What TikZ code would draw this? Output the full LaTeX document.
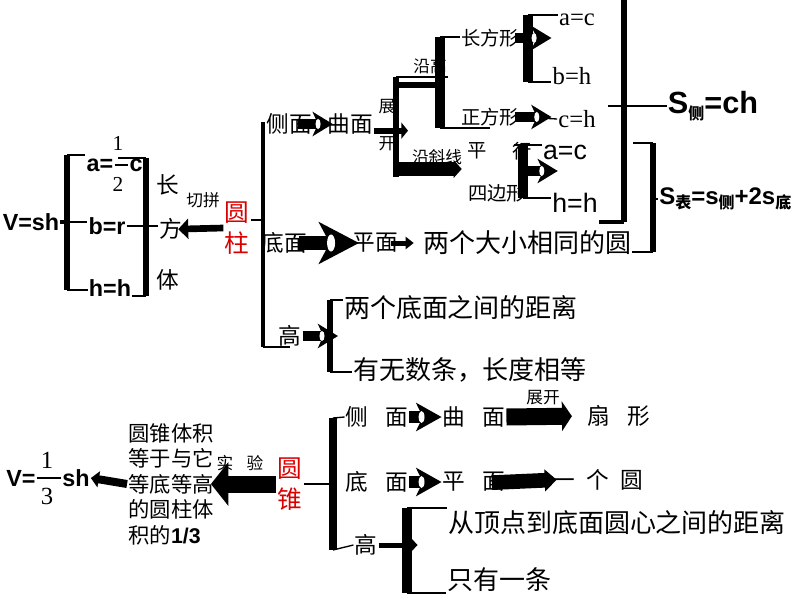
\documentclass[tikz,border=0pt]{standalone}
\usepackage{fontspec}
\setmainfont{Liberation Serif}
\setsansfont{Liberation Sans}
\newfontfamily\cjk{Noto Sans CJK SC}
\usetikzlibrary{arrows.meta}

\newcommand{\cjksub}[1]{\raisebox{-0.35ex}{\cjk\fontsize{12}{12}\selectfont #1}}

\tikzset{
  cn/.style={font=\cjk\fontsize{17}{19}\selectfont, inner sep=0.75pt},
  cnl/.style={font=\cjk\fontsize{19.5}{21}\selectfont, inner sep=0.75pt},
  cns/.style={font=\cjk\fontsize{14.5}{16}\selectfont, inner sep=0.75pt},
  cnt/.style={font=\cjk\fontsize{12.5}{13}\selectfont, inner sep=0.75pt},
  cnb/.style={font=\cjk\fontsize{16}{19.1}\selectfont, inner sep=0.75pt, align=left},
  yuan/.style={font=\cjk\fontsize{18.5}{23.5}\selectfont, text=red!85!black, align=center, inner sep=0.75pt},
  fml/.style={font=\sffamily\bfseries\fontsize{17.5}{19}\selectfont, inner sep=0.75pt},
  num/.style={font=\rmfamily\fontsize{16}{18}\selectfont, inner sep=0.75pt},
  rm/.style={font=\rmfamily\fontsize{18.5}{20}\selectfont, inner sep=0.75pt},
  sf/.style={font=\sffamily\fontsize{20}{22}\selectfont, inner sep=0.75pt},
  ln/.style={line width=1pt},
  bar/.style={line width=#1},
  arr/.style n args={3}{line width=#1, -{Triangle[length=#2,width=#3]}},
  harr/.style={line width=7.5pt, -{Stealth[length=15pt,width=18pt,inset=4pt]}},
  harrmid/.style={line width=9pt, -{Stealth[length=19pt,width=21pt,inset=5pt]}},
  harrbig/.style={line width=10pt, -{Stealth[length=30pt,width=31pt,inset=8pt]}},
}

\begin{document}
\begin{tikzpicture}[x=0.75pt,y=0.75pt,yscale=-1,xscale=1]
\useasboundingbox (0,0) rectangle (794,596);

% Text Node -- cuboid
\node[fml] (vsh) at (31,222) {V=sh};
\node[fml] (aeq) at (100,165) {a=};
\node[fml] (cc) at (136,165) {c};
\node[num] (one) at (118,143) {1};
\node[num] (two) at (118,184) {2};
\node[fml] (br) at (107,226) {b=r};
\node[fml] (hh) at (110,288) {h=h};
\node[cn] (chang) at (168,185) {长};
\node[cn] (fang) at (171,229) {方};
\node[cn] (ti) at (168,280) {体};
\node[cnt] (qp) at (203,200) {切拼};
\node[yuan] (yz) at (237,228) {圆\\柱};

% Text Node -- cylinder tree
\node[cn] (ce) at (289,124) {侧面};
\node[cn] (qm) at (350,124) {曲面};
\node[cnt] (zhan) at (387,107) {展};
\node[cnt] (kai) at (387,144) {开};
\node[cnt] (yg) at (430,66) {沿高};
\node[cns] (cfx) at (490,38) {长方形};
\node[cns] (zfx) at (490,117) {正方形};
\node[cnt] (yxx) at (437,157) {沿斜线};
\node[cns] (ping) at (477,151) {平};
\node[cns] (xing) at (522,151) {行};
\node[cns] (sbx) at (497,193) {四边形};
\node[rm] (ac1) at (577,20) {a=c};
\node[rm] (bh1) at (572,76) {b=h};
\node[rm] (ch1) at (577,119) {c=h};
\node[sf] (ac2) at (565,152) {a=c};
\node[sf] (hh2) at (575,203) {h=h};
\node[font=\sffamily\bfseries\fontsize{23}{25}\selectfont, inner sep=0.75pt] (sce) at (713,106) {S\cjksub{侧}=ch};
\node[font=\sffamily\bfseries\fontsize{18}{20}\selectfont, anchor=west, inner sep=0.75pt] (sbiao) at (658,199) {S\cjksub{表}=s\cjksub{侧}+2s\cjksub{底}};
\node[cn] (dm) at (284,243) {底面};
\node[cn] (pm) at (375,243) {平面};
\node[cnl] (lgy) at (527,243) {两个大小相同的圆};
\node[cn] (gao) at (290,336) {高};
\node[cnl] (ld) at (461,308) {两个底面之间的距离};
\node[cnl] (ywx) at (470,370) {有无数条，长度相等};

% Text Node -- cone
\node[fml] (ve) at (21,478) {V=};
\node[rm] (t1) at (47,460) {1};
\node[rm] (t3) at (47,496) {3};
\node[fml] (sh) at (76,478) {sh};
\node[cnb] (tj) at (171,484) {圆锥体积\\等于与它\\等底等高\\的圆柱体\\积的{\sffamily\bfseries 1/3}};
\node[cnt] (sy) at (240,463) {实\hspace{0.8em}验};
\node[yuan] (yzh) at (290,484) {圆\\锥};
\node[cn] (bce) at (377,417) {侧\hspace{0.75em}面};
\node[cn] (bqm) at (474,417) {曲\hspace{0.75em}面};
\node[cn] (sx) at (619,416) {扇\hspace{0.75em}形};
\node[cnt] (zk) at (543,398) {展开};
\node[cn] (bdm) at (377,482) {底\hspace{0.75em}面};
\node[cn] (bpm) at (474,482) {平\hspace{0.75em}面};
\node[cn] (yge) at (598,480) {一\hspace{0.5em}个\hspace{0.5em}圆};
\node[cn] (bgao) at (366,545) {高};
\node[cnl] (cd) at (617,523) {从顶点到底面圆心之间的距离};
\node[cnl] (zy) at (499,580) {只有一条};

%Straight Lines -- brackets of the cuboid
\coordinate (lbt) at (67,155);
\coordinate (lbb) at (67,290);
\coordinate (rbt) at (146,158);
\coordinate (rbb) at (146,296);
\draw[ln] (aeq.east) -- (cc.west);
\draw[bar=4pt] (lbt) -- (lbb);
\draw[ln] (lbt) -- (lbt -| aeq.west);
\draw[ln] (lbb) -- (lbb -| hh.west);
\draw[bar=3pt] (vsh.east) -- (vsh.east -| lbt);
\draw[ln] (vsh.east -| lbt) -- (vsh.east -| br.west);
\draw[bar=4pt] (rbt) -- (rbb);
\draw[ln] (rbt) -- (rbt -| one);
\draw[ln] (rbb) -- (rbb -| hh.east);
\draw[ln] (br.east) -- (br.east -| fang.west);
\draw[arr={5pt}{7.5pt}{15pt}, shorten >=-4pt] (yz.west) -- (fang.east);

%Straight Lines -- cylinder tree
\coordinate (mt) at (263,122);
\coordinate (mb) at (263,347);
\draw[bar=3pt] (mt) -- (mb);
\draw[ln] ([yshift=-6pt]yz.east) -- ([yshift=-6pt]yz.east -| mt);
\draw[ln] (mb) -- (mb -| gao);

% side face
\draw[harr, shorten <=-11pt, shorten >=-5pt] (ce.east) -- (qm.west);
\fill[white] ([xshift=-6pt]qm.west) ellipse (1.9pt and 3.8pt);
\coordinate (v1t) at (396,77);
\coordinate (v1b) at (396,177);
\coordinate (v1u) at (396,85);
\coordinate (v1l) at (396,169);
\draw[arr={4.5pt}{5pt}{12pt}, shorten >=-9pt] ([yshift=5pt]qm.east) -- ([yshift=5pt]qm.east -| v1t);
\draw[bar=5pt] (v1t) -- (v1b);
\draw[ln] (v1t) -- (v1t -| yg.east);
\coordinate (v2t) at (440,37);
\coordinate (v2b) at (440,128);
\draw[bar=5pt] (v1u) -- (v1u -| v2t);
\draw[bar=7.5pt] (v2t) -- (v2b);
\draw[ln] (v2t) -- (v2t -| cfx.west);
\draw[ln] (v2b) -- (v2b -| zfx);
\draw[arr={11pt}{6pt}{13pt}, shorten >=3.75pt] (v1l) -- (v1l -| sbx.west);

% rectangle
\coordinate (v3t) at (528,15);
\coordinate (v3b) at (528,82);
\coordinate (e1) at (cfx.east -| bh1.west);
\draw[bar=7.5pt] (v3t) -- (v3b);
\draw[ln] (v3t) -- (v3t -| ac1.west);
\draw[ln] (v3b) -- (v3b -| bh1.west);
\draw[harr, shorten <=-4pt] (cfx.east) -- (e1);
\fill[white] ([xshift=-13pt]e1) ellipse (1.9pt and 3.8pt);

% square
\coordinate (e2) at (zfx.east -| bh1.west);
\draw[ln] (zfx.east) -- (ch1.west);
\draw[harr, shorten <=-4pt] (zfx.east) -- (e2);
\fill[white] ([xshift=-11pt]e2) ellipse (1.9pt and 3.8pt);

% parallelogram
\coordinate (v4t) at (523,145);
\coordinate (v4b) at (523,198);
\coordinate (v4m) at (523,171);
\coordinate (e3) at (v4m -| hh2.west);
\draw[ln] ([xshift=-7pt]v4t) -- (v4t -| ac2.west);
\draw[ln] (v4b) -- (v4b -| hh2.west);
\draw[bar=7.5pt] (v4t) -- (v4b);
\draw[harr, shorten >=-5pt] (v4m) -- (e3);
\fill[white] ([xshift=-7pt]e3) ellipse (1.9pt and 3.8pt);

% lateral and total area
\coordinate (bbt) at (624,-5);
\coordinate (bbb) at (624,222);
\coordinate (bbm) at (624,106);
\draw[bar=5pt] (bbt) -- (bbb);
\draw[bar=3pt] (bbb) -- (bbb -| hh2.east);
\draw[line width=1.5pt] ([xshift=-12pt]bbm) -- (sce.west);
\coordinate (sbt) at (653,143);
\coordinate (sbb) at (653,252);
\draw[ln] (sbt) -- ([xshift=7pt]bbt |- sbt);
\draw[bar=4pt] (sbt) -- (sbb);
\draw[ln] (sbb) -- (sbb -| lgy.east);
\draw[ln] (sbb |- sbiao.west) -- (sbiao.west);

% base
\draw[harrbig, shorten <=-7pt, shorten >=-6pt] (dm.east) -- (pm.west);
\fill[white] ([xshift=-15pt]pm.west) ellipse (3pt and 6.4pt);
\draw[arr={3.75pt}{6pt}{9pt}, shorten <=-6pt, shorten >=6pt] (pm.east) -- (lgy.west);

% height
\coordinate (v5t) at (330,300);
\coordinate (v5b) at (330,372);
\coordinate (e4) at (gao.east -| v5t);
\draw[bar=5pt] (v5t) -- (v5b);
\draw[ln] (v5t) -- (v5t -| ld.west);
\draw[ln] (v5b) -- (v5b -| ywx.west);
\draw[harr, shorten >=-6pt] (gao.east) -- (e4);
\fill[white] ([xshift=-6pt]e4) ellipse (1.9pt and 3.8pt);

%Straight Lines -- cone
\draw[ln] (ve.east) -- (sh.west);
\draw[arr={6pt}{6pt}{12pt}] (tj.west) -- (sh.east);
\draw[arr={12.75pt}{13pt}{32pt}, shorten >=-3pt] (yzh.west) -- (tj.east);
\coordinate (bmt) at (333,418);
\coordinate (bmb) at (333,550);
\draw[ln] (yzh.east) -- (yzh.east -| bmt);
\draw[bar=6pt] (bmt) -- (bmb);
\draw[ln] (bmt) -- (bce.west);
\draw[ln] (bmb) -- (bgao.west);
\draw[harrmid] (bce.east) -- (bqm.west);
\fill[white] ([xshift=-15pt]bqm.west) ellipse (2.2pt and 4.5pt);
\draw[arr={12.75pt}{7.5pt}{22pt}, shorten >=11pt] (bqm.east) -- (sx.west);
\draw[harrmid] (bdm.east) -- (bpm.west);
\fill[white] ([xshift=-15pt]bpm.west) ellipse (2.2pt and 4.5pt);
\draw[arr={11pt}{9pt}{16pt}, shorten <=-11pt, shorten >=-4pt] (bpm.east) -- (yge.west);
\coordinate (v6t) at (407,508);
\coordinate (v6b) at (407,593);
\coordinate (e7) at (bgao.east -| v6t);
\draw[bar=7.5pt] (v6t) -- (v6b);
\draw[ln] (v6t) -- (v6t -| cd.west);
\draw[ln] (v6b) -- (v6b -| zy.west);
\draw[arr={3.75pt}{5pt}{10pt}, shorten >=-8pt] (bgao.east) -- (e7);

\end{tikzpicture}
\end{document}
